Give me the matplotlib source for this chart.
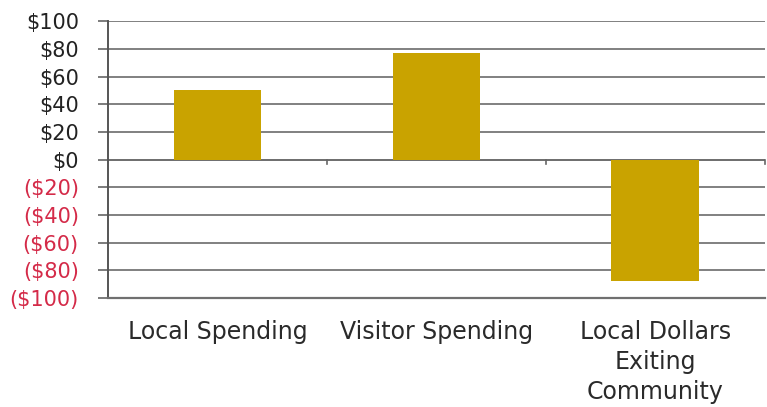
import matplotlib
matplotlib.use("Agg")
import matplotlib.pyplot as plt

categories = ["Local Spending", "Visitor Spending", "Local Dollars\nExiting\nCommunity"]
values = [50, 77, -88]
y_ticks = [100, 80, 60, 40, 20, 0, -20, -40, -60, -80, -100]
y_tick_labels = ["$100", "$80", "$60", "$40", "$20", "$0",
                 "($20)", "($40)", "($60)", "($80)", "($100)"]

plt.rcParams['font.family'] = ['DejaVu Sans']
fig = plt.figure(figsize=(7.67, 4.07), dpi=100)
ax = fig.add_axes([0.1408, 0.268, 0.997 - 0.1408, 0.948 - 0.268])

x = list(range(len(categories)))
ax.bar(x, values, width=0.4, color="#c9a300", zorder=3)

ax.set_xlim(-0.5, len(categories) - 0.5)
ax.set_ylim(-100, 100)
ax.set_yticks(y_ticks)
ax.set_yticklabels(y_tick_labels, fontsize=15)
for lab, v in zip(ax.get_yticklabels(), y_ticks):
    lab.set_color("#d42a48" if v < 0 else "#222222")

ax.grid(axis="y", color="#808080", linewidth=1.4, zorder=1)
ax.set_xticks(x)
ax.set_xticklabels(categories, fontsize=17, color="#2a2a2a", linespacing=1.32)
ax.tick_params(axis="x", length=0, pad=16)
ax.tick_params(axis="y", length=7, width=1.2, color="#666666", pad=14)

# category separator ticks on the zero line
for b in [0.5, 1.5, 2.5]:
    ax.plot([b, b], [0, -3], color="#666666", linewidth=1.2, zorder=4, clip_on=False)
ax.axhline(0, color="#707070", linewidth=1.4, zorder=2)

for s in ["top", "right"]:
    ax.spines[s].set_visible(False)
ax.spines["left"].set_color("#555555")
ax.spines["left"].set_linewidth(1.4)
ax.spines["bottom"].set_color("#707070")
ax.spines["bottom"].set_linewidth(1.6)

fig.savefig("out.png", dpi=100)
